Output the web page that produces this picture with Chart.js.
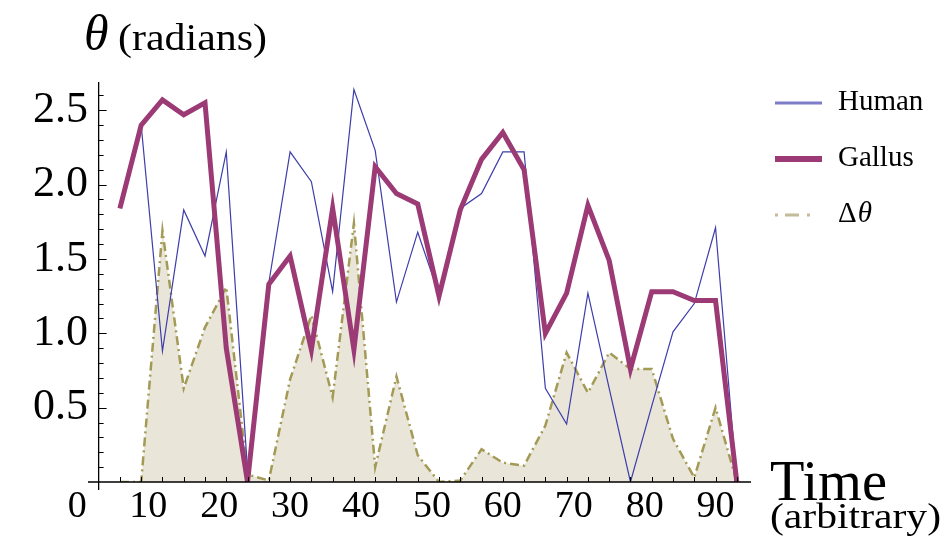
<!DOCTYPE html>
<html>
<head>
<meta charset="utf-8">
<script src="https://cdn.jsdelivr.net/npm/chart.js@4"></script>
<style>
  html, body { margin: 0; padding: 0; background: #fff; }
  #wrap { width: 952px; height: 541px; position: relative; }
</style>
</head>
<body>
<div id="wrap"><canvas id="thetaChart"></canvas></div>
<script>
// Angle vs time, Human / Gallus / difference

const timePoints = [6, 9, 12, 15, 18, 21, 24, 27, 30, 33, 36, 39, 42, 45, 48,
    51, 54, 57, 60, 63, 66, 69, 72, 75, 78, 81, 84, 87, 90, 93];
const humanAngle = [1.84, 2.40, 0.88, 1.83, 1.52, 2.22, 0.08, 1.34, 2.22, 2.02,
    1.28, 2.64, 2.23, 1.21, 1.68, 1.26, 1.84, 1.94, 2.22, 2.22, 0.63, 0.39, 1.27,
    0.63, 0.0, 0.51, 1.01, 1.20, 1.71, 0.0];
const gallusAngle = [1.84, 2.40, 2.57, 2.47, 2.55, 0.90, 0.0, 1.33, 1.52, 0.89,
    1.84, 0.89, 2.12, 1.94, 1.87, 1.25, 1.83, 2.17, 2.35, 2.10, 1.00, 1.27, 1.86,
    1.49, 0.76, 1.28, 1.28, 1.22, 1.22, 0.0];
const deltaAngle = [0, 0, 1.69, 0.63, 1.04, 1.31, 0.05, 0.01, 0.69, 1.12, 0.57,
    1.74, 0.10, 0.71, 0.18, 0, 0.01, 0.22, 0.13, 0.11, 0.38, 0.87, 0.60, 0.87,
    0.76, 0.76, 0.29, 0.03, 0.50, 0];
const xTickValues = [0, 10, 20, 30, 40, 50, 60, 70, 80, 90];
const yTickValues = [0.5, 1.0, 1.5, 2.0, 2.5];

const serif = '"Liberation Serif", "Times New Roman", Times, "DejaVu Serif", serif';

function toPoints(values) {
    return values.map((v, i) => ({ x: timePoints[i], y: v }));
}

// text squeezed/stretched horizontally to a given width
function fitText(ctx, text, x, y, width) {
    const w = ctx.measureText(text).width;
    ctx.save();
    ctx.translate(x, y);
    ctx.scale(width / w, 1);
    ctx.fillText(text, 0, 0);
    ctx.restore();
}

// setup
const data = {
    datasets: [
        {
            label: "Gallus",
            data: toPoints(gallusAngle),
            borderColor: "#9b3a74",
            borderWidth: 5,
            borderJoinStyle: "miter",
            pointRadius: 0,
            order: 0,
        },
        {
            label: "Human",
            data: toPoints(humanAngle),
            borderColor: "#3d3dab",
            borderWidth: 1.2,
            pointRadius: 0,
            order: 1,
        },
        {
            label: "\u0394\u03b8",
            data: toPoints(deltaAngle),
            borderColor: "#a39a55",
            backgroundColor: "#e9e6d9",
            borderWidth: 2.5,
            borderDash: [9, 4, 2, 4],
            fill: "origin",
            pointRadius: 0,
            order: 2,
        },
    ],
};

// axes, tick marks and the free text, drawn Mathematica style
const decorPlugin = {
    id: "decor",
    afterDatasetsDraw(chart) {
        const ctx = chart.ctx;
        const x = chart.scales.x;
        const y = chart.scales.y;
        const xAxis = x.getPixelForValue(3);
        const y0 = y.getPixelForValue(0);
        ctx.save();
        ctx.strokeStyle = "#000";
        ctx.lineWidth = 1.3;
        ctx.beginPath();
        ctx.moveTo(x.left, y0);
        ctx.lineTo(x.right, y0);
        ctx.moveTo(xAxis, y0 + 8);
        ctx.lineTo(xAxis, y.top);
        ctx.stroke();
        ctx.lineWidth = 1;
        ctx.beginPath();
        for (let k = 1; k <= 26; k++) {
            const py = Math.round(y.getPixelForValue(k / 10)) + 0.5;
            const len = k % 5 === 0 ? 8 : 5;
            ctx.moveTo(xAxis, py);
            ctx.lineTo(xAxis + len, py);
        }
        timePoints.forEach((t) => {
            const px = Math.round(x.getPixelForValue(t)) + 0.5;
            ctx.moveTo(px, y0);
            ctx.lineTo(px, y0 - 5);
        });
        ctx.stroke();
        ctx.restore();
    },
    afterDraw(chart) {
        const ctx = chart.ctx;
        ctx.save();
        ctx.fillStyle = "#000";
        ctx.textBaseline = "alphabetic";
        ctx.textAlign = "left";
        // y title
        ctx.font = "italic 50px " + serif;
        ctx.fillText("\u03b8", 84, 50);
        ctx.font = "37px " + serif;
        fitText(ctx, "(radians)", 118, 50, 149);
        // x title
        ctx.font = "57px " + serif;
        fitText(ctx, "Time", 770, 500, 117);
        ctx.font = "36px " + serif;
        fitText(ctx, "(arbitrary)", 770, 528, 171);

        // legend
        const items = [
            { text: "Human", y: 103, color: "#7d7dc8", width: 3, dash: [], end: 822 },
            { text: "Gallus", y: 159, color: "#9b3a74", width: 6, dash: [], end: 822 },
            { text: "\u0394", y: 215, color: "#c4bc98", width: 3, dash: [3, 7, 14, 8], end: 811 },
        ];
        items.forEach((it) => {
            ctx.strokeStyle = it.color;
            ctx.lineWidth = it.width;
            ctx.setLineDash(it.dash);
            ctx.beginPath();
            ctx.moveTo(775, it.y);
            ctx.lineTo(it.end, it.y);
            ctx.stroke();
            ctx.setLineDash([]);
            ctx.font = "29px " + serif;
            ctx.fillText(it.text, 838, it.y + 7);
        });
        const dw = ctx.measureText("\u0394").width;
        ctx.font = "italic 29px " + serif;
        ctx.fillText("\u03b8", 838 + dw + 1, 222);
        ctx.restore();
    },
};

//config
const config = {
    type: "line",
    data: data,
    options: {
        responsive: true,
        maintainAspectRatio: false,
        animation: false,
        layout: {
            padding: { top: 82, right: 201, bottom: 0, left: 0 },
        },
        scales: {
            x: {
                type: "linear",
                min: 1.5,
                max: 95,
                afterBuildTicks: (scale) => {
                    scale.ticks = xTickValues.map((v) => ({ value: v }));
                },
                afterFit: (scale) => {
                    scale.height = 59;
                },
                grid: { display: false, drawTicks: false },
                border: { display: false },
                ticks: {
                    autoSkip: false,
                    maxRotation: 0,
                    padding: 2,
                    color: "#000",
                    font: { family: serif, size: 38 },
                    callback: (value) => String(value),
                },
            },
            y: {
                min: 0,
                max: 2.69,
                afterBuildTicks: (scale) => {
                    scale.ticks = yTickValues.map((v) => ({ value: v }));
                },
                afterFit: (scale) => {
                    scale.width = 88;
                },
                grid: { display: false, drawTicks: false },
                border: { display: false },
                ticks: {
                    padding: 0,
                    color: "#000",
                    font: { family: serif, size: 44 },
                    callback: (value) => value.toFixed(1),
                },
            },
        },
        plugins: {
            legend: { display: false },
            tooltip: { enabled: false },
        },
    },
    plugins: [decorPlugin],
};

//render init block
const thetaChart = new Chart(
    document.getElementById("thetaChart").getContext("2d"),
    config
);
</script>
</body>
</html>
